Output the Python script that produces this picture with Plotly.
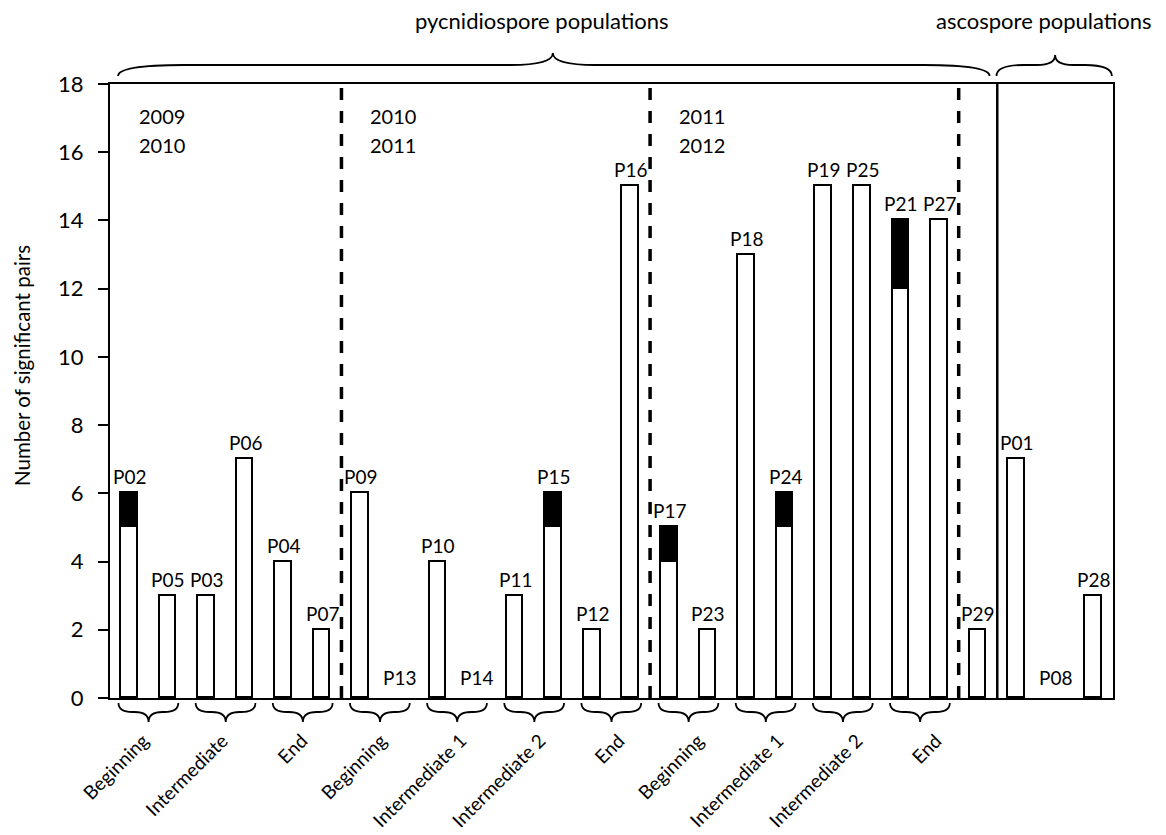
import plotly.graph_objects as go

# ---------------- data ----------------
pop_labels = ["P02", "P05", "P03", "P06", "P04", "P07", "P09", "P13", "P10", "P14",
              "P11", "P15", "P12", "P16", "P17", "P23", "P18", "P24", "P19", "P25",
              "P21", "P27", "P29", "P01", "P08", "P28"]
white_part = [5, 3, 3, 7, 4, 2, 6, 0, 4, 0,
              3, 5, 2, 15, 4, 2, 13, 5, 15, 15,
              12, 14, 2, 7, 0, 3]
black_part = [1, 0, 0, 0, 0, 0, 0, 0, 0, 0,
              0, 1, 0, 0, 1, 0, 0, 1, 0, 0,
              2, 0, 0, 0, 0, 0]
stage_names = ["Beginning", "Intermediate", "End",
               "Beginning", "Intermediate 1", "Intermediate 2", "End",
               "Beginning", "Intermediate 1", "Intermediate 2", "End"]
season_years = [["2009", "2010"], ["2010", "2011"], ["2011", "2012"]]
season_start = [0, 6, 14]
y_ticks = [0, 2, 4, 6, 8, 10, 12, 14, 16, 18]
top_groups = ["pycnidiospore populations", "ascospore populations"]

FONT = "Lato"
N = len(pop_labels)
xs = list(range(N))
totals = [w + b for w, b in zip(white_part, black_part)]
# zero-height segments are not drawn (avoid outline artifacts)
white_draw = [v if v else None for v in white_part]
black_draw = [v if v else None for v in black_part]

# layout geometry
W, H = 1166, 835
ML, MR, MT, MB = 110, 53, 84, 137
PH = H - MT - MB  # plot height px

def pp(px_from_bottom):
    """pixels (positive = above plot bottom) -> paper units"""
    return px_from_bottom / PH

fig = go.Figure()
fig.add_trace(go.Bar(x=xs, y=white_draw, width=0.43,
                     marker=dict(color="white", line=dict(color="black", width=1.8)),
                     showlegend=False, hoverinfo="skip"))
fig.add_trace(go.Bar(x=xs, y=black_draw, width=0.43,
                     marker=dict(color="black", line=dict(color="black", width=1.8)),
                     showlegend=False, hoverinfo="skip"))

shapes = []
# season separators
for xv in [5.5, 13.5, 21.5]:
    shapes.append(dict(type="line", xref="x", yref="y", x0=xv, x1=xv, y0=0, y1=18,
                       line=dict(color="black", width=3.5, dash="12px,11px"), layer="above"))
shapes.append(dict(type="line", xref="x", yref="y", x0=22.5, x1=22.5, y0=0, y1=18,
                   line=dict(color="black", width=2.5), layer="above"))


def brace(x0, x1, xc, y_tip, y_flat, y_pt, d_end, d_mid):
    return (f"M {x0},{y_tip} Q {x0},{y_flat} {x0 + d_end},{y_flat} "
            f"L {xc - d_mid},{y_flat} Q {xc},{y_flat} {xc},{y_pt} "
            f"Q {xc},{y_flat} {xc + d_mid},{y_flat} "
            f"L {x1 - d_end},{y_flat} Q {x1},{y_flat} {x1},{y_tip}")

# bottom braces for each stage (pairs of bars)
for k in range(len(stage_names)):
    a = 2 * k
    shapes.append(dict(type="path", xref="x", yref="paper",
                       path=brace(a - 0.28, a + 1.27, a + 0.5,
                                  pp(-5), pp(-14), pp(-24), 0.36, 0.36),
                       line=dict(color="black", width=1.8)))

# top braces
shapes.append(dict(type="path", xref="x", yref="paper",
                   path=brace(-0.29, 22.3, 10.98, 1 + pp(8), 1 + pp(19), 1 + pp(31), 1.7, 1.1),
                   line=dict(color="black", width=1.8)))
shapes.append(dict(type="path", xref="x", yref="paper",
                   path=brace(22.48, 25.47, 24.0, 1 + pp(8), 1 + pp(19), 1 + pp(29), 0.7, 0.47),
                   line=dict(color="black", width=1.8)))

annotations = []
# bar labels
for i in xs:
    annotations.append(dict(x=i, y=totals[i], xref="x", yref="y", text=pop_labels[i],
                            showarrow=False, yanchor="bottom", yshift=3 if totals[i] > 0 else 7,
                            font=dict(family=FONT, size=19, color="black")))
# stage labels (rotated)
for k, name in enumerate(stage_names):
    annotations.append(dict(x=2 * k + 0.68 + 0.055 * k, y=0, xref="x", yref="paper",
                            text=name, textangle=-45, showarrow=False,
                            xanchor="right", yanchor="top", yshift=-28,
                            font=dict(family=FONT, size=19, color="black")))
# season years
for s, yrs in enumerate(season_years):
    for j, yr in enumerate(yrs):
        annotations.append(dict(x=season_start[s] + 0.2, y=17.06 - 0.85 * j, xref="x", yref="y",
                                text=yr, showarrow=False, xanchor="left", yanchor="middle",
                                font=dict(family=FONT, size=20, color="black")))
# top group titles
annotations.append(dict(x=10.7, y=1, xref="x", yref="paper", text=top_groups[0],
                        showarrow=False, yanchor="middle", yshift=64,
                        font=dict(family=FONT, size=22, color="black")))
annotations.append(dict(x=23.72, y=1, xref="x", yref="paper", text=top_groups[1],
                        showarrow=False, yanchor="middle", yshift=64,
                        font=dict(family=FONT, size=22, color="black")))
# y axis title
annotations.append(dict(x=0, y=0.5, xref="paper", yref="paper", text="Number of significant pairs",
                        textangle=-90, showarrow=False, xanchor="center", yanchor="middle",
                        xshift=-88, yshift=25,
                        font=dict(family=FONT, size=20.5, color="black")))

fig.update_layout(
    width=W, height=H,
    margin=dict(l=ML, r=MR, t=MT, b=MB),
    paper_bgcolor="white", plot_bgcolor="white",
    barmode="stack", bargap=0,
    shapes=shapes, annotations=annotations,
    showlegend=False,
    font=dict(family=FONT, color="black"),
)
fig.update_xaxes(range=[-0.5, N - 0.5], showticklabels=False, ticks="", showgrid=False,
                 zeroline=False, showline=True, linecolor="black", linewidth=2, mirror=True)
fig.update_yaxes(range=[0, 18], tickvals=y_ticks, ticks="outside", ticklen=10, tickwidth=2,
                 tickcolor="black", showgrid=False, zeroline=False, showline=True,
                 linecolor="black", linewidth=2, mirror=True, ticklabelstandoff=10,
                 tickfont=dict(family=FONT, size=22, color="black"))

fig.write_html("out.html", config={"displayModeBar": False},
               post_script="document.body.style.margin='0';")
